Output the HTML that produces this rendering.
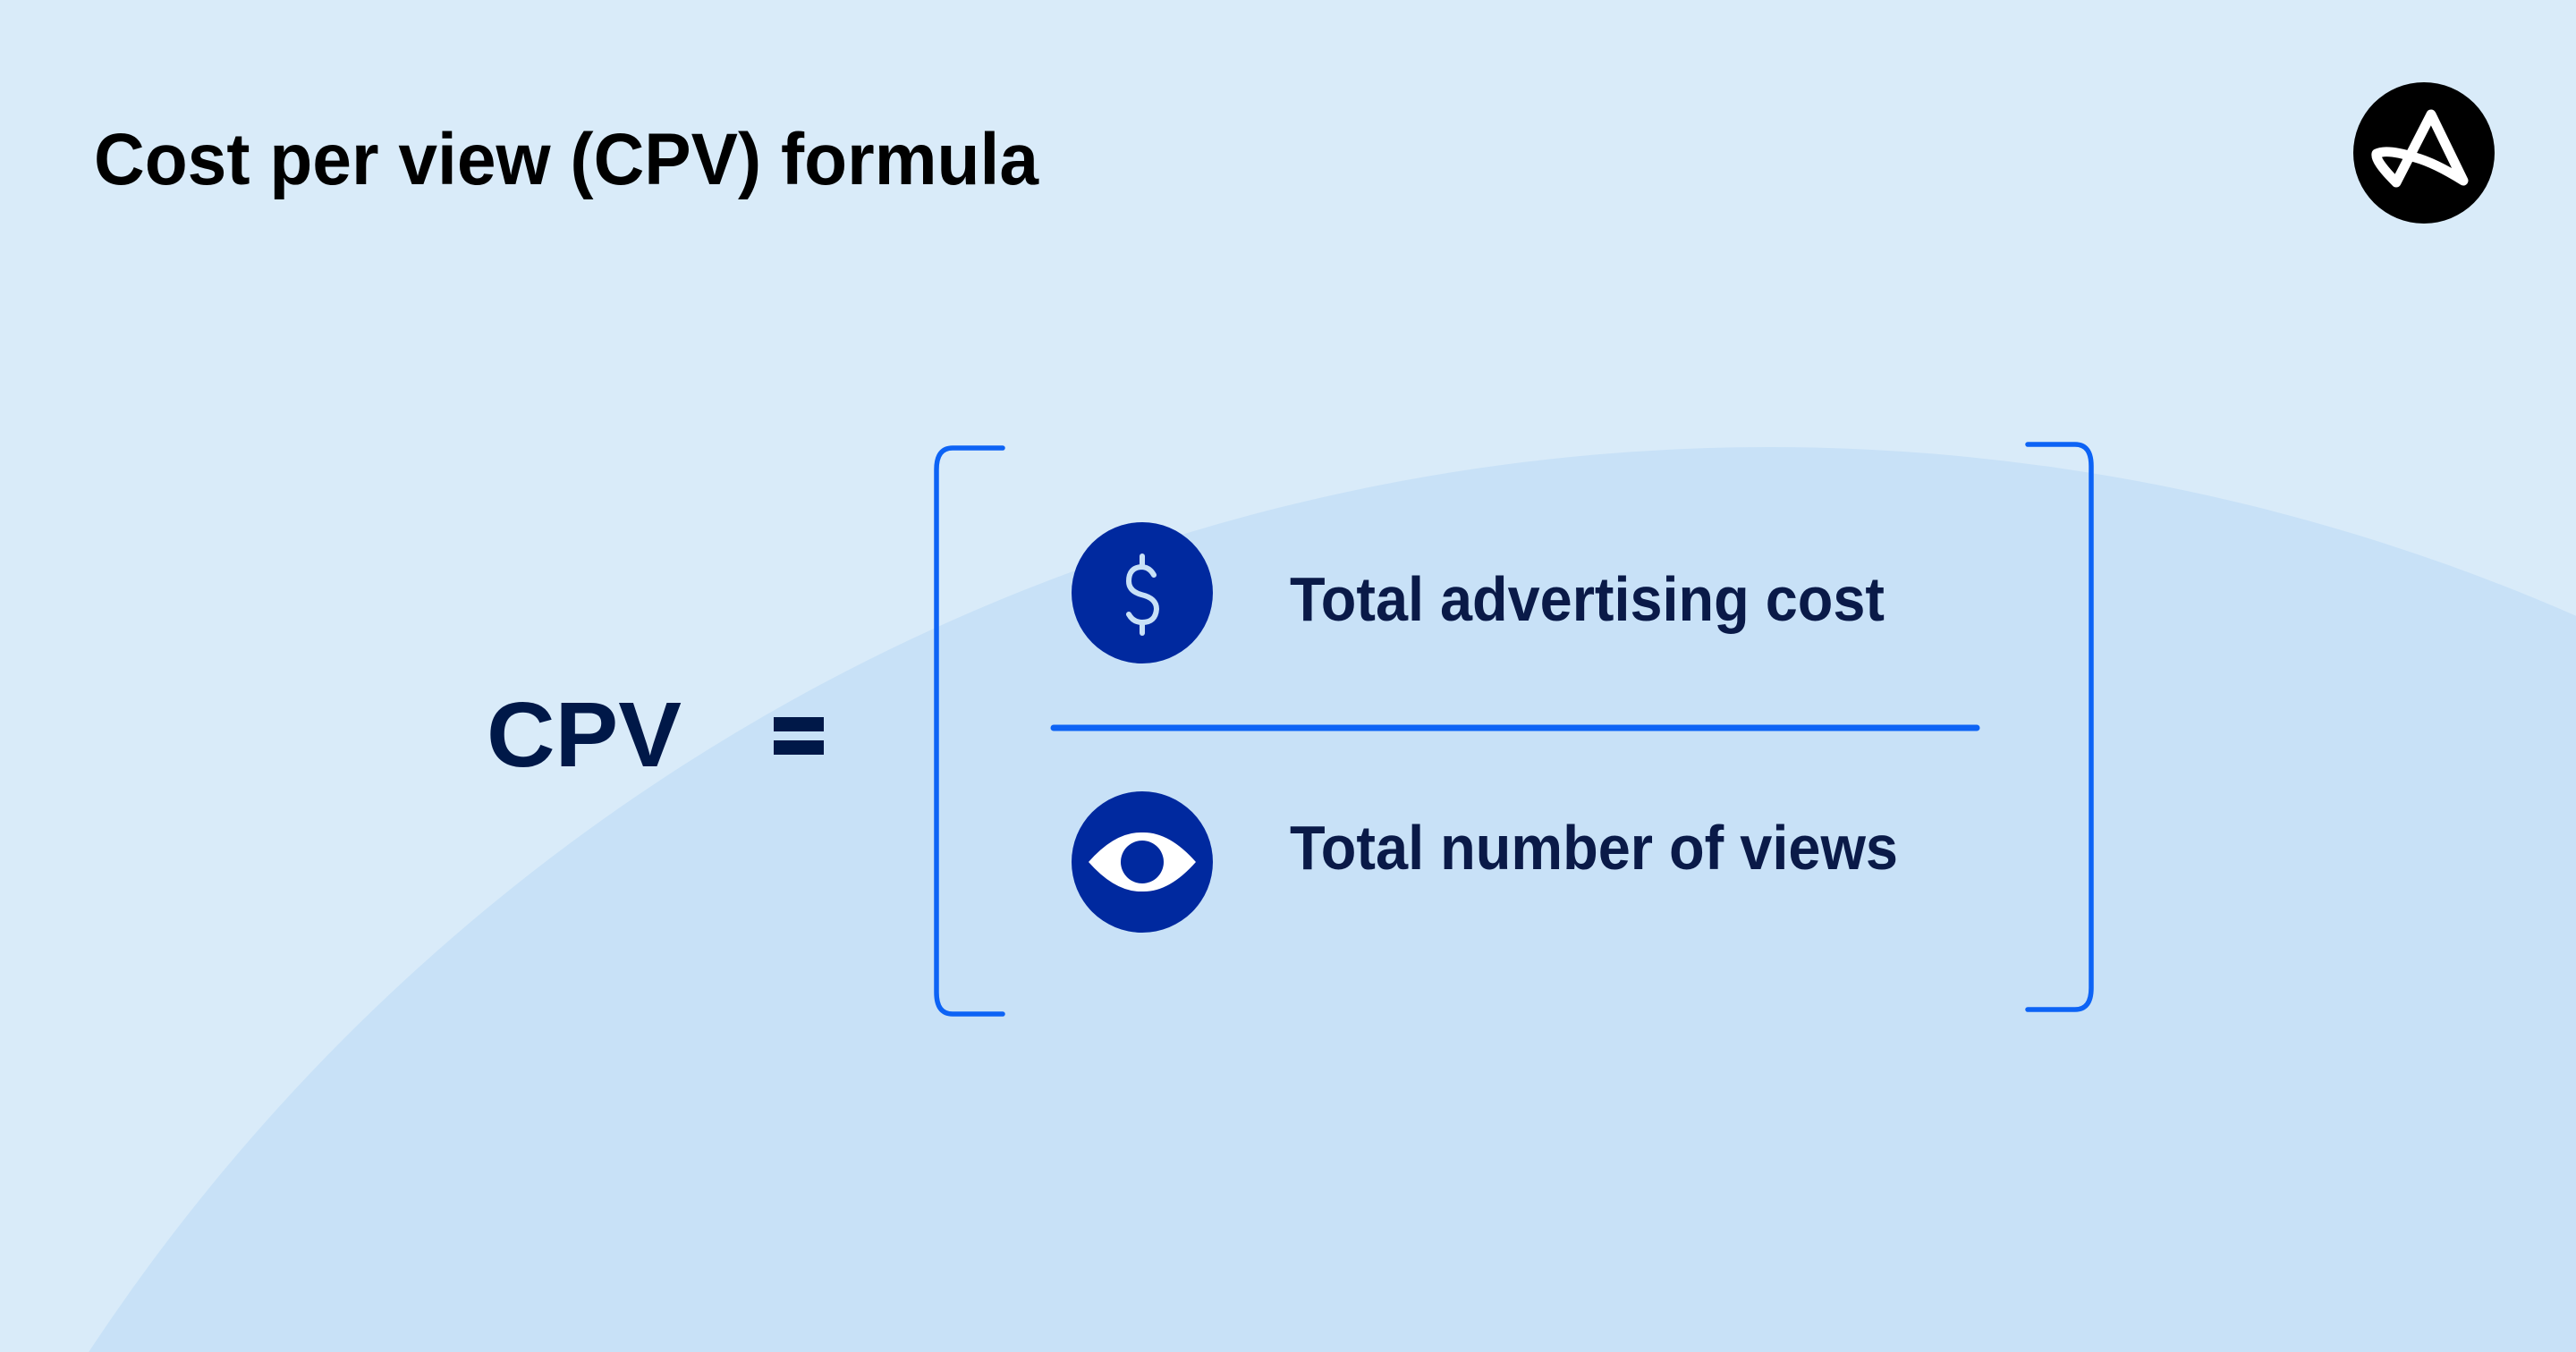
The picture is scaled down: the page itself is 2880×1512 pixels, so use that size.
<!DOCTYPE html>
<html><head><meta charset="utf-8"><style>
html,body{margin:0;padding:0;width:2880px;height:1512px;overflow:hidden;background:#d9ebf9}
svg{display:block;overflow:hidden}
</style></head><body>
<svg width="2880" height="1512" viewBox="0 0 2880 1512" xmlns="http://www.w3.org/2000/svg">
<rect width="2880" height="1512" fill="#d9ebf9"/>
<circle cx="1978" cy="2750" r="2250" fill="#c8e1f7"/>
<text x="105" y="206" font-family="Liberation Sans, sans-serif" font-weight="bold" font-size="82" fill="#000" textLength="1056" lengthAdjust="spacingAndGlyphs">Cost per view (CPV) formula</text>
<circle cx="2710" cy="171" r="79" fill="#000"/>
<path d="M2679,204 L2718,128 L2754,202 Q2722,182 2700,176 Q2668,166 2657,172 Q2655,180 2679,204 Z" fill="none" stroke="#fff" stroke-width="11" stroke-linejoin="round" stroke-linecap="round"/>
<text x="544" y="857" font-family="Liberation Sans, sans-serif" font-weight="bold" font-size="103" fill="#001848" textLength="218" lengthAdjust="spacingAndGlyphs">CPV</text>
<rect x="865" y="802" width="56" height="16" fill="#001848"/>
<rect x="865" y="828" width="56" height="16" fill="#001848"/>
<g fill="none" stroke="#0d63f5" stroke-width="5.5" stroke-linecap="round">
<path d="M1121,501 L1065,501 Q1047,501 1047,525 L1047,1110 Q1047,1134 1065,1134 L1121,1134"/>
<path d="M2267,497 L2320,497 Q2338,497 2338,521 L2338,1105 Q2338,1129 2320,1129 L2267,1129"/>
<line x1="1178" y1="814" x2="2210" y2="814" stroke-width="7"/>
</g>
<circle cx="1277" cy="663" r="79" fill="#00299f"/>
<g fill="none" stroke="#c8e1f7" stroke-width="6" stroke-linecap="round">
<line x1="1277" y1="622" x2="1277" y2="634"/>
<line x1="1277" y1="696" x2="1277" y2="708"/>
<path d="M1290,643 Q1285,634 1276,634 Q1262,635 1262,650 Q1262,661 1276,665 Q1293,669 1293,681 Q1292,696 1277,696 Q1267,696 1262,687"/>
</g>
<circle cx="1277" cy="964" r="79" fill="#00299f"/>
<path d="M1217,964 Q1247,930 1277,931 Q1307,930 1337,964 Q1307,998 1277,997 Q1247,998 1217,964 Z" fill="#fff"/>
<ellipse cx="1277" cy="964" rx="24" ry="24" fill="#00299f"/>
<text x="1442" y="694" font-family="Liberation Sans, sans-serif" font-weight="bold" font-size="70" fill="#0a1a48" textLength="665" lengthAdjust="spacingAndGlyphs">Total advertising cost</text>
<text x="1442" y="972" font-family="Liberation Sans, sans-serif" font-weight="bold" font-size="70" fill="#0a1a48" textLength="680" lengthAdjust="spacingAndGlyphs">Total number of views</text>
</svg>
</body></html>
